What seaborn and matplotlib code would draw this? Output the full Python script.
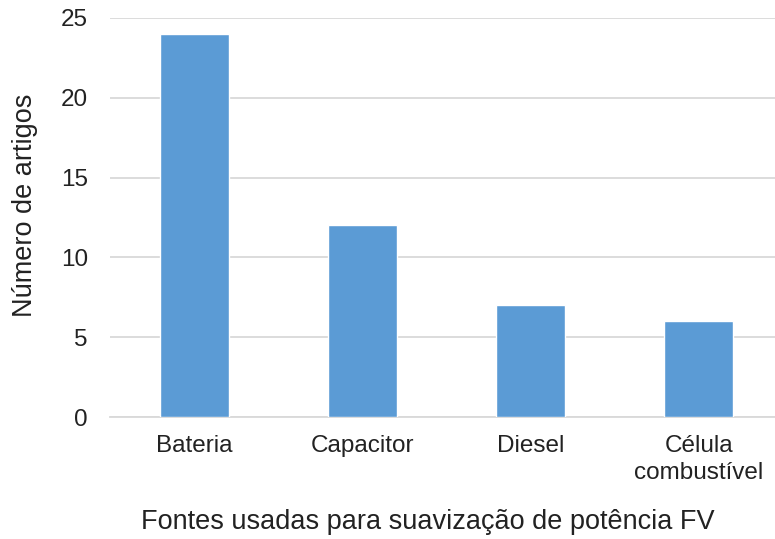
import matplotlib
matplotlib.use('Agg')
import matplotlib.pyplot as plt
import seaborn as sns
import pandas as pd

# data
categorias = ['Bateria', 'Capacitor', 'Diesel', 'Célula\ncombustível']
artigos = [24, 12, 7, 6]
y_ticks = [0, 5, 10, 15, 20, 25]

df = pd.DataFrame({'fonte': categorias, 'n': artigos})

sns.set_theme(style='white')
plt.rcParams['font.family'] = ['Liberation Sans', 'DejaVu Sans']

W, H = 775, 539
fig = plt.figure(figsize=(W / 100, H / 100), dpi=100)
ax = fig.add_axes([110 / W, 122 / H, 673 / W, 399 / H])

sns.barplot(data=df, x='fonte', y='n', color='#5b9bd5', width=0.41,
            saturation=1, ax=ax, zorder=3)

ax.set_ylim(0, 25)
ax.set_yticks(y_ticks)
ax.set_xlim(-0.5, 3.5)
ax.yaxis.grid(True, color='#d9d9d9', linewidth=1.3, zorder=0)
ax.set_axisbelow(True)
for s in ['top', 'right', 'left']:
    ax.spines[s].set_visible(False)
ax.spines['bottom'].set_color('#d9d9d9')
ax.spines['bottom'].set_linewidth(1.3)

ax.tick_params(axis='y', length=0, pad=16, labelsize=17.5, labelcolor='#222222')
ax.tick_params(axis='x', length=0, pad=13, labelsize=17.5, labelcolor='#222222')
for lab in ax.get_xticklabels():
    lab.set_linespacing(1.3)

ax.set_xlabel('Fontes usadas para suavização de potência FV', fontsize=19.5,
              color='#222222')
ax.set_ylabel('Número de artigos', fontsize=19.5, color='#222222')
ax.xaxis.set_label_coords((428 - 110) / 673, (417 - 522) / 399)
ax.xaxis.label.set_va('center')
ax.yaxis.set_label_coords((25 - 110) / 673, (417 - 205) / 399)
ax.yaxis.label.set_va('center')

fig.savefig('out.png', dpi=100)
